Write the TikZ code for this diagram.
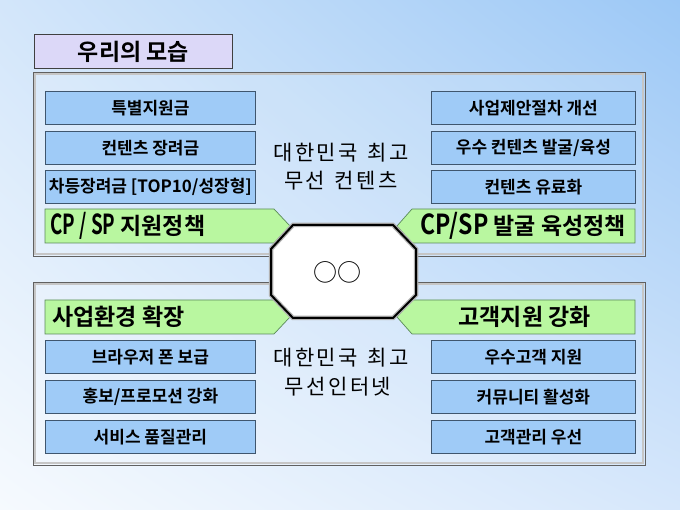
\documentclass[tikz,border=0pt]{standalone}
\usepackage{fontspec}
\usetikzlibrary{shadings}
\setmainfont{Noto Sans CJK KR}
\newfontfamily\kr{Noto Sans CJK KR}
\newfontfamily\krb{Noto Sans CJK KR Bold}
\definecolor{boxblue}{HTML}{9FCBF7}
\definecolor{boxline}{HTML}{3F566E}
\definecolor{greenf}{HTML}{B9F7A0}
\definecolor{greenl}{HTML}{5A8A5A}
\definecolor{titlef}{HTML}{DCD8F8}
\definecolor{bgTR}{HTML}{9CC8F6}
\definecolor{bgTL}{HTML}{D3E6FA}
\definecolor{bgBL}{HTML}{F6FAFE}
\definecolor{bgBR}{HTML}{D6E7FB}
\newcommand{\tallat}[2][1]{\scalebox{#1}[1.2]{#2}}
\newcommand{\ks}{\kern2.5pt}
\tikzset{
  bluebox/.style={draw=boxline, line width=0.8pt, fill=boxblue, minimum width=210pt, minimum height=33pt, inner sep=0pt, font=\krb\fontsize{17}{19}\selectfont},
  greenshape/.style={draw=greenl, line width=0.7pt, fill=greenf},
  greentext/.style={font=\krb\fontsize{23}{25}\selectfont, inner sep=0pt},
  paneltext/.style={font=\kr\fontsize{21}{23}\selectfont, inner sep=0pt},
  panelouter/.style={draw=gray!75!black, line width=0.7pt},
  panelinner/.style={draw=gray!45, line width=1.8pt},
}
\begin{document}
\begin{tikzpicture}[x=1pt,y=-1pt]
\useasboundingbox (0,0) rectangle (680,510);
\shade[upper left=bgTL, upper right=bgTR, lower left=bgBL, lower right=bgBR] (0,0) rectangle (680,510);
% title
\node[draw=gray!50!black, line width=0.8pt, fill=titlef, minimum width=198pt, minimum height=34pt, inner sep=0pt, anchor=north west, font=\krb\fontsize{23}{25}\selectfont] (title) at (34,34) {우리의 모습};
% panels
\fill[white, opacity=0.12] (33,72) rectangle (645,256);
\draw[panelinner] (35,74) rectangle (643,254);
\draw[panelouter] (33,72) rectangle (645,256);
\fill[white, opacity=0.12] (33,282) rectangle (645,465);
\draw[panelinner] (35,284) rectangle (643,463);
\draw[panelouter] (33,282) rectangle (645,465);
% top left boxes
\node[bluebox, anchor=north west] (a1) at (45,91) {특별지원금};
\node[bluebox, anchor=north west] (a2) at (45,131) {컨텐츠 장려금};
\node[bluebox, anchor=north west] (a3) at (45,170) {차등장려금 [TOP10/성장형]};
% top right boxes
\node[bluebox, anchor=north west, minimum width=204pt] (b1) at (431,91) {사업제안절차 개선};
\node[bluebox, anchor=north west, minimum width=204pt] (b2) at (431,131) {우수 컨텐츠 발굴/육성};
\node[bluebox, anchor=north west, minimum width=204pt] (b3) at (431,170) {컨텐츠 유료화};
% bottom left boxes
\node[bluebox, anchor=north west] (c1) at (45,340) {브라우저 폰 보급};
\node[bluebox, anchor=north west] (c2) at (45,380) {홍보/프로모션 강화};
\node[bluebox, anchor=north west] (c3) at (45,420) {서비스 품질관리};
% bottom right boxes
\node[bluebox, anchor=north west, minimum width=204pt] (d1) at (431,340) {우수고객 지원};
\node[bluebox, anchor=north west, minimum width=204pt] (d2) at (431,380) {커뮤니티 활성화};
\node[bluebox, anchor=north west, minimum width=204pt] (d3) at (431,420) {고객관리 우선};
% green arrows
\draw[greenshape] (45,209) -- (274,209) -- (290,226) -- (274,243) -- (45,243) -- cycle;
\node[greentext, anchor=west] (g1) at (50,226) {\tallat[0.82]{CP / SP} 지원정책};
\draw[greenshape] (635,209) -- (412,209) -- (397,226) -- (412,243) -- (635,243) -- cycle;
\node[greentext, anchor=east] (g2) at (626,226) {\tallat{CP/SP} 발굴 육성정책};
\draw[greenshape] (45,300) -- (274,300) -- (290,317) -- (274,334) -- (45,334) -- cycle;
\node[greentext, anchor=west] (g3) at (52,317) {사업환경 확장};
\draw[greenshape] (635,300) -- (412,300) -- (397,317) -- (412,334) -- (635,334) -- cycle;
\node[greentext, anchor=east] (g4) at (591,317) {고객지원 강화};
% center texts
\node[paneltext] (t1a) at (341,153) {대\ks 한\ks 민\ks 국\ks\ \ks 최\ks 고};
\node[paneltext] (t1b) at (341,181) {무\ks 선\ks\ \ks 컨\ks 텐\ks 츠};
\node[paneltext] (t2a) at (341,358) {대\ks 한\ks 민\ks 국\ks\ \ks 최\ks 고};
\node[paneltext] (t2b) at (338,387) {무\ks 선\ks 인\ks 터\ks 넷};
% octagon
\path[draw=gray!60, line width=4.5pt, fill=white] (271,249) -- (293,225) -- (393,225) -- (416,249) -- (416,295) -- (393,318) -- (293,318) -- (271,295) -- cycle;
\draw[black, line width=2pt] (271,249) -- (293,225) -- (393,225) -- (416,249) -- (416,295) -- (393,318) -- (293,318) -- (271,295) -- cycle;
\node[font=\kr\fontsize{24}{26}\selectfont, inner sep=0pt] (oo) at (337,272) {○○};
\end{tikzpicture}
\end{document}
